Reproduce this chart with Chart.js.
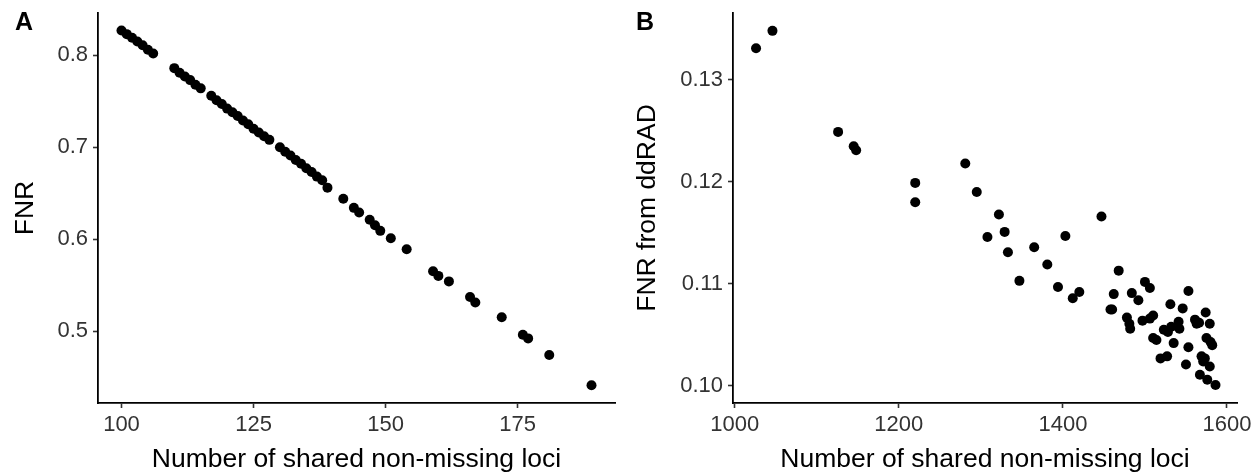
<!DOCTYPE html>
<html>
<head>
<meta charset="utf-8">
<title>FNR vs shared loci</title>
<script src="https://cdn.jsdelivr.net/npm/chart.js@4.4.1/dist/chart.umd.min.js"></script>
<style>
  html, body { margin: 0; padding: 0; background: #fff; }
  #wrap { position: relative; width: 1260px; height: 476px; font-family: "Liberation Sans", Arial, sans-serif; }
  .panel { position: absolute; top: 0; width: 630px; height: 476px; }
  .tag { position: absolute; top: 9px; font-weight: bold; font-size: 25px; line-height: 1; color: #000; }
</style>
</head>
<body>
<div id="wrap">
  <div class="panel" style="left:0"><canvas id="chartA"></canvas></div>
  <div class="panel" style="left:630px"><canvas id="chartB"></canvas></div>
  <div class="tag" style="left:15px">A</div>
  <div class="tag" style="left:636px">B</div>
</div>
<script>
// Panel A: shared loci vs FNR
const aLoci = [100, 101, 102, 103, 104, 105, 106,
  110, 111, 112, 113, 114, 115,
  117, 118, 119, 120, 121, 122, 123, 124, 125, 126, 127, 128,
  130, 131, 132, 133, 134, 135, 136, 137, 138, 139,
  142, 144, 145, 147, 148, 149, 151, 154, 159, 160, 162, 166, 167, 172, 176, 177, 181, 189];
const aFnr = [0.827, 0.823, 0.819, 0.815, 0.811, 0.806, 0.802,
  0.786, 0.781, 0.777, 0.773, 0.768, 0.764,
  0.756, 0.751, 0.747, 0.742, 0.738, 0.734, 0.729, 0.725, 0.720, 0.716, 0.712, 0.708,
  0.700, 0.695, 0.691, 0.686, 0.682, 0.677, 0.673, 0.668, 0.664, 0.656,
  0.644, 0.634, 0.629, 0.621, 0.615, 0.609, 0.601, 0.589, 0.565, 0.560, 0.554, 0.537, 0.531, 0.515, 0.496, 0.492, 0.474, 0.441];

// Panel B: shared loci vs FNR from ddRAD
const bLoci = [1026, 1046, 1126, 1145, 1148, 1220, 1220, 1281, 1295, 1322, 1329, 1308,
  1447, 1403, 1333, 1347, 1365, 1381, 1394, 1412, 1420, 1458, 1460, 1462, 1468,
  1478, 1481, 1482, 1484, 1492, 1497, 1500, 1506, 1506, 1510, 1510, 1514, 1519,
  1527, 1523, 1528, 1531, 1532, 1535, 1541, 1542, 1546, 1550, 1553, 1553, 1561,
  1563, 1566, 1567, 1569, 1571, 1573, 1574, 1575, 1576, 1579, 1579, 1580, 1582, 1586];
const bFnr = [0.1331, 0.1348, 0.1249, 0.1235, 0.1231, 0.1199, 0.1180, 0.1218, 0.1190, 0.1168, 0.1151, 0.1146,
  0.1166, 0.1147, 0.1131, 0.1103, 0.1136, 0.1119, 0.1097, 0.1086, 0.1092, 0.1075, 0.1075, 0.1090, 0.1113,
  0.1067, 0.1061, 0.1056, 0.1091, 0.1084, 0.1064, 0.1102, 0.1096, 0.1066, 0.1069, 0.1047, 0.1045, 0.1027,
  0.1029, 0.1055, 0.1053, 0.1080, 0.1058, 0.1042, 0.1063, 0.1056, 0.1076, 0.1021, 0.1038, 0.1093, 0.1065,
  0.1061, 0.1062, 0.1011, 0.1029, 0.1024, 0.1027, 0.1072, 0.1047, 0.1006, 0.1061, 0.1019, 0.1043, 0.1040, 0.1001];

const aXTicks = [100, 125, 150, 175];
const aYTicks = [0.5, 0.6, 0.7, 0.8];
const bXTicks = [1000, 1200, 1400, 1600];
const bYTicks = [0.10, 0.11, 0.12, 0.13];

const xTitle = 'Number of shared non-missing loci';

function axis(min, max, ticks, digits, title, size, isY, titlePad) {
  return {
    type: 'linear',
    min: min,
    max: max,
    border: { display: true, color: '#000', width: 1.8 },
    grid: { display: true, drawOnChartArea: false, drawTicks: true, tickLength: 5, tickWidth: 1.6, color: '#333' },
    ticks: {
      color: '#333',
      padding: isY ? 5 : 4,
      font: { family: '"Liberation Sans", Arial, sans-serif', size: 22 },
      callback: v => Number(v).toFixed(digits)
    },
    title: {
      display: true,
      text: title,
      color: '#000',
      font: { family: '"Liberation Sans", Arial, sans-serif', size: 26.5, lineHeight: 1 },
      padding: isY ? { top: titlePad, bottom: 0 } : { top: 0, bottom: titlePad }
    },
    afterBuildTicks: s => { s.ticks = ticks.map(v => ({ value: v })); },
    afterFit: s => {
      // fixed axis boxes, no extra label padding so the panels line up
      if (isY) { s.width = size; s.paddingTop = 0; s.paddingBottom = 0; }
      else { s.height = size; s.paddingLeft = 0; s.paddingRight = 0; }
    }
  };
}

function makeChart(id, xs, ys, xScale, yScale, padRight) {
  return new Chart(document.getElementById(id), {
    type: 'scatter',
    data: {
      datasets: [{
        data: xs.map((x, i) => ({ x: x, y: ys[i] })),
        backgroundColor: '#000',
        borderWidth: 0,
        pointRadius: 5
      }]
    },
    options: {
      responsive: true,
      maintainAspectRatio: false,
      animation: false,
      layout: { padding: { top: 13, right: padRight, left: 0, bottom: 0 } },
      plugins: { legend: { display: false }, tooltip: { enabled: false } },
      scales: { x: xScale, y: yScale }
    }
  });
}

makeChart('chartA', aLoci, aFnr,
  axis(95.55, 193.45, aXTicks, 0, xTitle, 73, false, 3),
  axis(0.4217, 0.846, aYTicks, 1, 'FNR', 98, true, 12), 15);

makeChart('chartB', bLoci, bFnr,
  axis(997.9, 1612.2, bXTicks, 0, xTitle, 73, false, 3),
  axis(0.09833, 0.13655, bYTicks, 2, 'FNR from ddRAD', 103, true, 4), 23);
</script>
</body>
</html>
